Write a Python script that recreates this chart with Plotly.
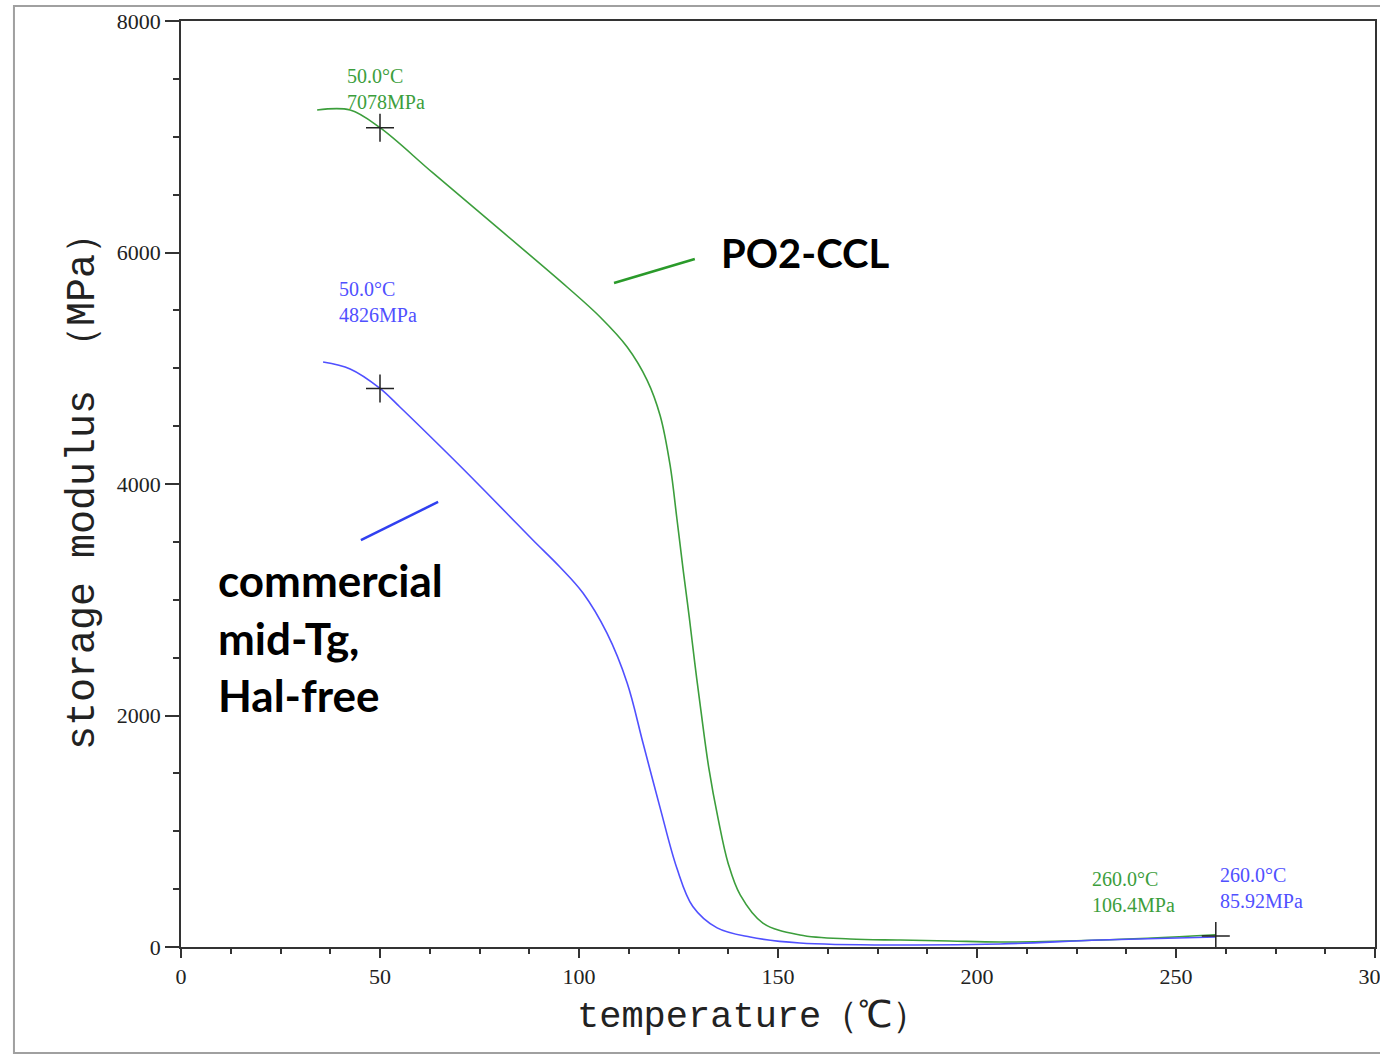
import plotly.graph_objects as go

# ---- data ----
po2_T = [34.2, 42.5, 50.0, 63.3, 80.2, 97.0, 105.3, 112.1, 117.1, 120.4, 122.9, 124.6,
         126.2, 127.7, 129.1, 130.6, 132.6, 135.0, 137.5, 140.5, 146.2, 155.5, 168.1,
         180.7, 193.2, 205.8, 230.9, 260.0]
po2_E = [7231, 7231, 7078, 6687, 6195, 5702, 5443, 5184, 4898, 4590, 4160, 3700,
         3250, 2850, 2450, 2050, 1550, 1100, 720, 450, 207, 104, 69,
         60, 52, 43, 60, 106.4]

com_T = [35.7, 42.5, 50.0, 55.0, 64.3, 71.9, 81.9, 88.4, 95.2, 101.0, 107.0, 112.1,
         116.1, 120.4, 124.6, 128.6, 134.7, 143.0, 155.5, 180.7, 205.8, 230.9, 260.0]
com_E = [5054, 4994, 4826, 4665, 4354, 4095, 3745, 3516, 3283, 3058, 2713, 2281,
         1760, 1200, 680, 350, 165, 86, 35, 17, 26, 60, 85.92]

mark_T = [50.0, 50.0, 260.0]
mark_E = [7078, 4826, 96]

x_ticks = [0, 50, 100, 150, 200, 250, 300]
y_ticks = [0, 2000, 4000, 6000, 8000]

GREEN = "#3c9e3c"
BLUE = "#5050ff"
SERIF = "Liberation Serif"

fig = go.Figure()
fig.add_trace(go.Scatter(x=po2_T, y=po2_E, mode="lines", line=dict(color=GREEN, width=1.6),
                         line_shape="spline", line_smoothing=1.0, showlegend=False))
fig.add_trace(go.Scatter(x=com_T, y=com_E, mode="lines", line=dict(color=BLUE, width=1.6),
                         line_shape="spline", line_smoothing=1.0, showlegend=False))
fig.add_trace(go.Scatter(x=mark_T, y=mark_E, mode="markers",
                         marker=dict(symbol="cross-thin", size=20, line=dict(color="#222", width=1.5)),
                         showlegend=False))

# leader lines
fig.add_shape(type="line", x0=108.8, y0=5736, x1=129.1, y1=5944, line=dict(color="#2a9a2a", width=2.5))
fig.add_shape(type="line", x0=45.2, y0=3516, x1=64.6, y1=3845, line=dict(color="#3040f0", width=2.5))

# outer gray frame
fig.add_shape(type="rect", xref="paper", yref="paper", x0=-0.1399, y0=-0.1145, x1=1.02, y1=1.0162,
              line=dict(color="#a0a0a0", width=2), layer="below")

def small(x, y, text, color):
    fig.add_annotation(x=x, y=y, text=text, showarrow=False, xanchor="left", yanchor="top",
                       align="left", font=dict(family=SERIF, size=20, color=color))

small(41.2, 7637, "50.0°C<br>7078MPa", GREEN)
small(39.2, 5797, "50.0°C<br>4826MPa", BLUE)
small(228.4, 700, "260.0°C<br>106.4MPa", GREEN)
small(260.6, 734, "260.0°C<br>85.92MPa", BLUE)

def big(x, y, text, size):
    fig.add_annotation(x=x, y=y, text="<b>" + text + "</b>", showarrow=False, xanchor="left",
                       yanchor="middle", font=dict(family="Lato", size=size, color="black"))

big(135.2, 5995, "PO2-CCL", 40)
big(8.9, 3170, "commercial", 44)
big(8.9, 2670, "mid-Tg,", 44)
big(8.9, 2180, "Hal-free", 44)

# axis titles
fig.add_annotation(xref="paper", yref="paper", x=0.479, y=-0.0756, text="temperature（℃）",
                   showarrow=False, xanchor="center", yanchor="middle",
                   font=dict(family="Liberation Mono", size=37, color="#222"))
fig.add_annotation(xref="paper", yref="paper", x=-0.0821, y=0.502, text="storage modulus （MPa）",
                   showarrow=False, xanchor="center", yanchor="middle", textangle=-90,
                   font=dict(family="Liberation Mono", size=40, color="#222"))

axis_common = dict(showline=True, linecolor="#333", linewidth=1.5, mirror=True,
                   showgrid=False, zeroline=False, ticks="outside", tickcolor="#333",
                   automargin=False,
                   tickfont=dict(family=SERIF, size=22, color="#222"))

fig.update_xaxes(range=[0, 300], tickvals=x_ticks, ticklen=9, tickwidth=1.5,
                 ticklabeloverflow="allow",
                 minor=dict(dtick=12.5, ticks="outside", ticklen=5, tickcolor="#333"),
                 **axis_common)
fig.update_yaxes(range=[0, 8000], tickvals=y_ticks, ticklen=14, tickwidth=1.5,
                 minor=dict(dtick=500, ticks="outside", ticklen=6, tickcolor="#333"),
                 **axis_common)

fig.update_layout(width=1380, height=1057, margin=dict(l=181, r=5, t=21, b=110),
                  plot_bgcolor="white", paper_bgcolor="white")

fig.write_html("out.html")
